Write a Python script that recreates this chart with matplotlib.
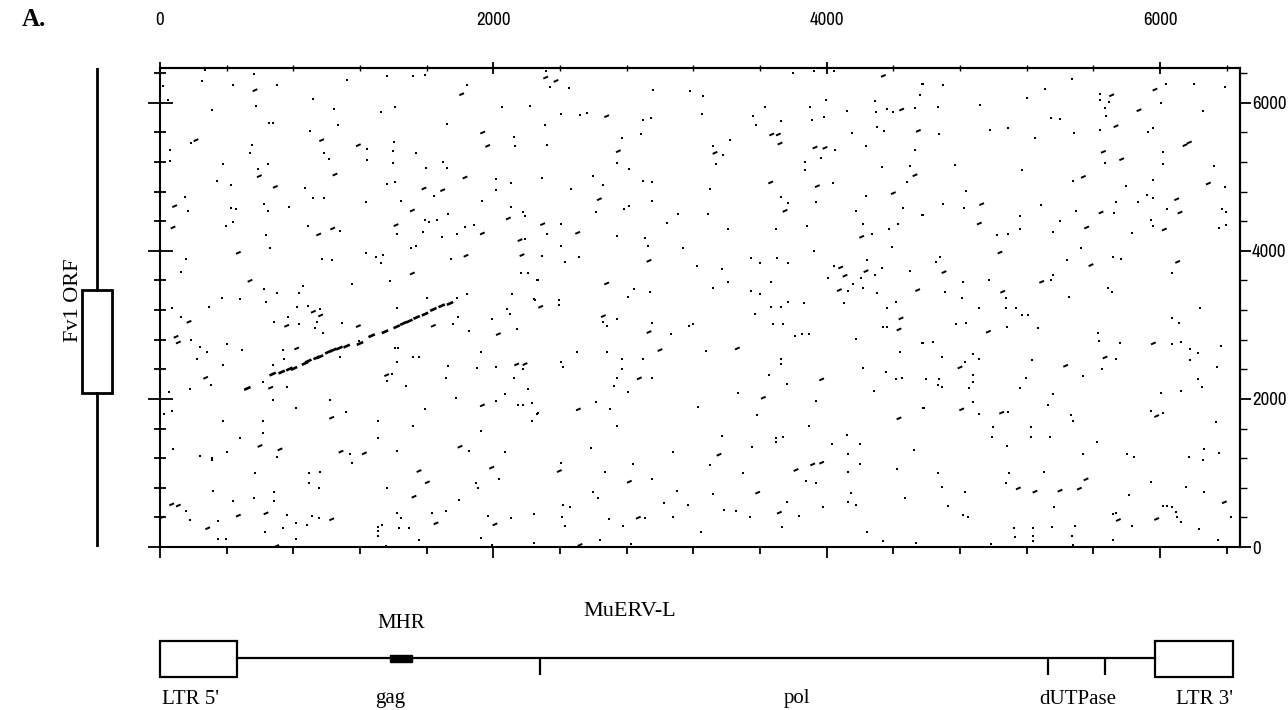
import matplotlib
matplotlib.use("Agg")
import matplotlib.pyplot as plt
from matplotlib import font_manager
from matplotlib.collections import LineCollection
from matplotlib.patches import Rectangle
from matplotlib.ticker import FixedLocator

# dot plot: MuERV-L (x) against the Fv1 region (y), coordinates in bp
# isolated dots
dots_a = [(270,6449),(566,6386),(254,6291),(440,6246),(700,6246),(16,6224),(1120,6314),(1364,6363),(1520,6363),(1590,6372),(1840,6238),(916,6057),(48,6035),(576,5954),(310,5909),(1044,5922),(1412,5940),(1326,5877),(2054,5945),(2220,5958),(654,5729),(676,5729),(1070,5706),(1720,5711),(900,5621),(2124,5540),(186,5459),(1240,5382),(1404,5472),(1396,5346),(2132,5414),(60,5369),(550,5427),(540,5328),(982,5328),(1534,5324),(1014,5247),(60,5216),(1240,5234),(1396,5193),(380,5180),(650,5167),(1700,5202),(1720,5121),(1594,5126),(590,5104),(342,4946),(424,4888),(872,4843),(1360,4901),(1410,4932),(2016,4968),(2014,4820),(2108,4910),(150,4721),(170,4541),(424,4582),(454,4559),(624,4631),(648,4541),(774,4586),(920,4708),(984,4708),(1238,4663),(1448,4676),(1644,4739),(1930,4676),(2108,4595),(2180,4528),(2190,4470),(396,4339),(436,4393),(634,4213),(886,4334),(1080,4266),(1420,4222),(1590,4415),(1616,4384),(1660,4415),(1730,4496),(1576,4249),(1690,4190),(1784,4226),(1830,4325),(1886,4348),(2190,4154),(660,4042),(156,3884),(124,3718),(970,3893),(1030,3875),(1236,3965),(1296,3911),(1324,3839),(1336,3943),(1506,4042),(1534,4064),(1744,3889),(2166,3695),(2206,3695),(2266,3605),(622,3488),(702,3434),(370,3367),(480,3344),(634,3308),(860,3524),(832,3425),(1154,3556),(1378,3596),(1604,3362),(1784,3362),(1840,3412),(2110,3412),(2250,3335),(70,3222),(294,3236),(820,3245),(886,3258),(960,3218),(1420,3222),(2080,3218)]
dots_b = [(124,3110),(184,2795),(240,2696),(280,2638),(220,2543),(306,2188),(180,2134),(56,2088),(26,1792),(72,1836),(404,2736),(490,2660),(376,2462),(768,3110),(684,3038),(832,3016),(940,3038),(928,2952),(980,2885),(1092,3020),(740,2660),(744,2538),(676,2462),(620,2228),(764,2165),(1080,2561),(1196,2786),(1410,2682),(1430,2682),(1420,2494),(1520,2561),(1556,2570),(1390,2332),(1364,2242),(1474,2178),(1756,3006),(1786,3110),(1856,2921),(1990,3074),(2100,3146),(2140,2944),(1924,2628),(1900,2422),(2014,2426),(2180,2404),(2124,2278),(1716,2278),(1730,2444),(1774,2016),(2016,1976),(2070,2066),(2148,1918),(2180,1918),(2210,2134),(2270,1805),(2230,1702),(1590,1864),(1520,1634),(1924,1571),(1856,1301),(2070,1283),(2034,914),(1896,860),(1910,792),(1796,635),(1714,491),(1630,455),(1556,95),(1966,419),(2104,388),(2246,446),(1924,118),(1990,28),(1022,1985),(1114,1828),(814,1872),(676,1985),(620,1702),(620,1535),(700,1220),(480,1476),(376,1702),(400,1287),(310,1198),(310,1170),(240,1234),(80,1328),(570,995),(896,1004),(960,1018),(896,869),(954,792),(1140,1252),(1154,1130),(1306,1706),(1306,1476),(1420,1296),(1360,802),(316,757),(436,622),(564,666),(684,748),(684,622),(154,491),(180,365),(350,356),(346,109),(396,109),(630,198),(764,428),(740,262),(814,329),(814,109),(880,298),(914,424),(954,388),(1310,266),(1310,221),(1310,149),(1330,298),(1420,455),(1444,388),(1434,253),(1496,253),(1356,14)]
dots_c = [(2316,6431),(2340,6215),(2454,6206),(2406,5842),(2520,5833),(2564,5864),(2896,5765),(2944,5801),(2308,5698),(2320,5436),(2956,6170),(3180,6161),(3260,6094),(3252,5842),(2770,5531),(2884,5576),(2742,5189),(2812,5112),(2292,4978),(2600,5014),(2660,4896),(2464,4834),(2896,4946),(2952,4924),(2812,4604),(2786,4564),(2614,4519),(2952,4672),(2404,4357),(2320,4226),(2404,4068),(2292,3934),(2430,3844),(2514,3911),(2740,4204),(2912,4176),(2926,4064),(3040,4379),(3106,4496),(3290,4492),(3136,4032),(3220,3794),(3320,5418),(3376,5292),(3420,5495),(3334,5171),(3302,4838),(2264,3605),(2844,3479),(2810,3380),(2940,3448),(2244,3344),(2394,3335),(2394,3268),(3374,3754),(3406,4294),(3406,3582),(3320,3502),(3544,3898),(3600,3839),(3700,3907),(3766,3839),(3664,3582),(3544,3461),(3600,3412),(3664,3236),(3724,3236),(3766,3304),(3864,3290),(3630,5945),(3556,5824),(3574,5706),(3726,5756),(3800,6404),(3926,6427),(4046,6427),(3900,5945),(3910,5774),(3984,5810),(3996,6044),(4050,5360),(3964,5256),(3868,5194),(3868,5099),(4036,4919),(3724,4730),(3766,4640),(3936,4662),(3696,4289),(3880,4338),(3924,4001),(4120,5891),(4150,5594),(4234,5418),(4290,6022),(4294,5877),(4360,5922),(4400,5877),(4530,5936),(4560,6112),(4574,6251),(4300,5675),(4344,5621),(4530,5360),(4330,5135),(4500,5144),(4480,4932),(4234,4744),(4456,4577),(4176,4536),(4216,4361),(4274,4222),(4374,4302),(4430,4357),(4570,4482),(4390,4055),(4244,3875),(4290,3672),(4334,3772),(4500,3731),(4046,3798),(4010,3636),(4156,3551),(4204,3636),(4216,3502),(4130,3461),(4104,3299),(4300,3425),(4416,3304),(4360,3222)]
dots_d = [(2656,3034),(2684,2988),(2740,3078),(2954,3020),(3064,2872),(3176,2984),(3200,3011),(3570,3142),(3680,3006),(3740,3006),(3810,2854),(3850,2872),(3896,2876),(4176,2804),(4340,2975),(4360,2975),(4440,2638),(4570,2750),(2504,2638),(2684,2638),(3274,2646),(2404,2502),(2416,2426),(2770,2538),(2770,2399),(2896,2534),(2740,2278),(2724,2178),(2954,2278),(2810,2098),(3724,2534),(3724,2471),(3654,2322),(3764,2201),(3470,2084),(4216,2422),(4356,2368),(4414,2268),(4454,2278),(4596,2268),(4286,2106),(3934,1972),(4586,1872),(2234,1949),(2264,1796),(2234,1702),(2614,1954),(2700,1859),(2740,1634),(3230,1895),(3580,1787),(3894,1634),(3370,1504),(3696,1467),(3696,1422),(3736,1490),(3550,1346),(2584,1342),(3076,1288),(4030,1386),(4120,1512),(4130,1252),(4200,1386),(4526,1310),(2404,1130),(2670,1018),(2836,1121),(2950,914),(3300,1112),(3496,1000),(3876,892),(3934,869),(4126,1018),(4200,1116),(4424,1049),(2596,747),(2626,658),(2416,568),(2460,545),(2414,410),(2430,288),(2244,446),(2694,383),(2780,288),(2910,388),(3024,599),(3102,761),(3170,568),(3076,410),(3316,716),(3384,500),(3454,491),(3542,410),(3764,612),(3836,419),(3734,275),(3246,208),(2824,41),(2640,95),(2244,50),(3980,545),(4130,604),(4144,734),(4176,568),(4470,658),(4240,208),(4340,82),(4534,50)]
dots_e = [(4576,6251),(4700,6246),(4670,5945),(4920,5976),(4674,5585),(4770,5166),(4834,4811),(4696,4627),(4824,4582),(4576,4482),(4980,5639),(5090,5662),(5204,6071),(5312,6192),(5250,5526),(5174,5099),(5160,4474),(5160,4302),(5286,4618),(5020,4212),(5090,4226),(4656,3852),(4680,3920),(4820,3582),(4976,3605),(4710,3448),(4810,3358),(5076,3358),(4916,3232),(5076,3232),(5136,3232),(5344,3605),(5356,3672),(5456,3371),(5346,5801),(5400,5783),(5474,6318),(5486,5594),(5476,4946),(5496,4541),(5400,4402),(5360,4258),(5526,4042),(5440,3875),(5640,6125),(5640,6044),(5670,5932),(5696,6004),(5676,5819),(5642,5630),(5670,5189),(5724,4505),(5736,4662),(5794,4874),(5866,4662),(5920,4752),(5960,4955),(5960,4708),(6040,4572),(5946,4415),(5960,4338),(5834,4244),(5720,3920),(5764,3889),(5690,3492),(5710,3448),(6036,6251),(6204,6260),(6390,6215),(6004,6001),(6260,5886),(5930,5608),(5956,5662),(6020,5338),(6020,5180),(6326,5148),(6390,4856),(6370,4559),(6396,4528),(6356,4312),(6396,4356),(6070,3695),(6240,3222)]
dots_f = [(4776,3006),(4834,3020),(5084,2975),(5170,3132),(5210,3132),(5270,2952),(4580,2750),(4636,2772),(4694,2570),(4830,2502),(4876,2606),(4916,2538),(4596,2268),(4676,2264),(4670,2188),(4694,2166),(4876,2322),(4876,2224),(4856,2142),(4876,1962),(4580,1872),(4916,1796),(5086,1828),(5000,1625),(4990,1490),(5084,1368),(5160,2142),(5196,2278),(5230,2525),(5356,2062),(5326,1918),(5224,1625),(5224,1490),(5340,1490),(5536,2309),(5466,1782),(5480,1706),(5626,2885),(5636,2782),(5650,2404),(5736,2534),(5760,2750),(5620,1414),(5536,1256),(5804,1256),(5844,1211),(6070,3088),(6116,3020),(6070,2741),(6126,2772),(6180,2669),(6180,2525),(6226,2624),(6340,2435),(6366,2714),(6226,2264),(6254,2156),(6126,2111),(6004,2075),(5946,1841),(6016,1814),(6336,1684),(6264,1324),(6260,1175),(6176,1220),(6354,1274),(4666,995),(4690,806),(4830,748),(4730,559),(4820,432),(4850,410),(5076,869),(5096,995),(5306,1008),(5366,536),(5126,252),(5130,140),(5240,252),(5240,149),(5240,86),(5354,275),(5470,149),(5490,284),(5480,28),(4986,41),(5716,95),(5716,446),(5736,464),(5816,703),(5834,284),(5944,874),(6016,559),(6044,554),(6070,536),(6096,478),(6100,410),(6126,343),(6154,806),(6264,739),(6236,239),(6424,410),(6350,95)]

# short dashes (short diagonal matches)
dashes = [(570,6170),(1810,6116),(1936,5598),(216,5495),(970,5495),(1190,5427),(1966,5418),(596,5009),(1050,5031),(692,4865),(1584,4843),(1696,4820),(1830,4991),(88,4604),(1514,4546),(78,4316),(952,4222),(1036,4302),(1416,4348),(1934,4235),(2090,4438),(2160,4145),(470,3974),(1836,3934),(2172,3943),(1514,3695),(540,3596),
          (174,3042),(96,2840),(110,2763),(274,2286),(760,2988),(920,3178),(964,3128),(1190,2984),(820,2682),(1360,2322),(664,2152),(1640,2988),(2030,2876),(2140,2466),(2190,2471),(1934,1913),(1800,1355),(1990,1072),(1604,874),(1554,1026),(1524,680),(1656,320),(2010,306),(1030,1746),(600,1365),(720,1319),(1086,1288),(1226,1265),(70,576),(110,560),(10,397),(286,253),(470,424),(636,455),(1030,374),(700,14),
          (2314,6341),(2376,6296),(2680,5819),(2750,5346),(2636,4698),(2296,4361),(2506,4244),(2934,3866),(3330,5324),(2680,3560),(2284,3245),(3670,5572),(3710,5572),(3720,5450),(3930,5396),(3990,5392),(3664,4924),(3944,4874),(3750,4541),(4340,6364),(4450,5909),(4550,5621),(4530,5022),(4400,4780),(4210,4190),(4236,3726),(4084,3776),(4110,3664),(4076,3470),(4546,3470),
          (2660,3119),(2934,2903),(4446,3088),(4434,2939),(3000,2660),(3464,2682),(2876,2278),(3620,2016),(3970,2264),(4434,1738),(2510,1859),(3354,1247),(2396,1026),(2816,882),(3816,1040),(3916,1116),(3970,1139),(3586,734),(3716,464),(2870,396),(2520,28),
          (4930,4631),(4916,4370),(5040,3978),(4704,3713),(5056,3448),(5290,3582),(5540,5000),(5560,4316),(5586,3808),(5710,6102),(5736,5684),(5660,5338),(5770,5238),(5646,4518),(6100,4698),(6120,4518),(6026,4289),(5970,6179),(5874,5900),(6150,5428),(6176,5464),(6290,4910),(6106,3852),
          (4970,2908),(4800,2426),(4810,1859),(5050,1814),(5434,2448),(5670,2560),(5960,2750),(5980,1769),(5150,792),(5250,748),(5400,761),(5516,788),(5556,914),(5750,365),(5980,379),(6386,604)]

# the homology diagonal (gag region of MuERV-L vs Fv1 ORF)
diag = [(524,2142),(676,2336),(730,2363),(776,2404),(804,2412),(870,2480),(890,2512),(940,2556),(960,2570),(1010,2633),(1040,2660),(1076,2687),(1120,2714),(1200,2750),(1270,2854),(1350,2908),(1420,2975),(1460,3020),(1496,3052),(1540,3101),(1590,3146),(1640,3209),(1690,3258),(1740,3290)]

# genome maps
ltr5 = (0, 460)
ltr3 = (5970, 6440)
mhr = (1380, 1510)
boundaries = [2280, 5330, 5670]
map_labels = ["LTR 5'", "gag", "pol", "dUTPase", "LTR 3'"]
map_label_x = [180, 1380, 3822, 5508, 6270]
fv1_orf = (2080, 3470)

XMAX, YMAX = 6480, 6470
major_ticks = [0, 2000, 4000, 6000]
minor_ticks = list(range(0, 6401, 400))
serif = ['Liberation Serif', 'DejaVu Serif']

# the axis numbers are in a narrow sans; take the narrowest the system has
def pick_narrow():
    found = {}
    for f in font_manager.fontManager.ttflist:
        nm = f.name.lower()
        if 'mono' in nm or 'serif' in nm or f.style != 'normal' or f.weight not in (400, 'normal', 'regular'):
            continue
        if 'narrow' in nm:
            found.setdefault(0, f.fname)
        elif 'condensed' in nm or f.stretch in ('condensed', 'semi-condensed', 'extra-condensed'):
            found.setdefault(1, f.fname)
    if 0 in found:
        return font_manager.FontProperties(fname=found[0], size=13.5)
    if 1 in found:
        return font_manager.FontProperties(fname=found[1], size=11.5)
    return font_manager.FontProperties(family='Liberation Sans', size=11)

narrow = pick_narrow()

fig = plt.figure(figsize=(12.88, 7.10), dpi=100)
L, W = 160 / 1288, 1080 / 1288
B, H = 163 / 710, 479 / 710

ax = fig.add_axes([L, B, W, H])
ax.set_xlim(0, XMAX)
ax.set_ylim(0, YMAX)

alldots = dots_a + dots_b + dots_c + dots_d + dots_e + dots_f
ax.scatter([p[0] for p in alldots], [p[1] for p in alldots], s=1.8, marker='s', c='k', lw=0)
d = 14
ax.add_collection(LineCollection([[(x - d, y - d), (x + d, y + d)] for x, y in dashes], colors='k', lw=1.4))
d = 19
ax.add_collection(LineCollection([[(x - d, y - d), (x + d, y + d)] for x, y in diag], colors='k', lw=1.9))

for s in ax.spines.values():
    s.set_linewidth(1.5)

for a in (ax.xaxis, ax.yaxis):
    a.set_major_locator(FixedLocator(major_ticks))
    a.set_minor_locator(FixedLocator(minor_ticks))
ax.tick_params(axis='x', which='both', direction='out', labelbottom=False, width=1.3)
ax.tick_params(axis='x', which='major', length=8)
ax.tick_params(axis='x', which='minor', length=5)
ax.tick_params(axis='y', which='both', direction='inout', labelleft=False, width=1.3)
ax.tick_params(axis='y', which='major', length=18)
ax.tick_params(axis='y', which='minor', length=9)

top = ax.secondary_xaxis('top')
top.xaxis.set_major_locator(FixedLocator(major_ticks))
top.xaxis.set_minor_locator(FixedLocator(minor_ticks))
top.tick_params(which='major', direction='inout', length=9, width=1.3, pad=24)
top.tick_params(which='minor', direction='inout', length=4, width=1.0)
top.spines['top'].set_linewidth(1.5)
for t in top.get_xticklabels():
    t.set_fontproperties(narrow)

right = ax.secondary_yaxis('right')
right.yaxis.set_major_locator(FixedLocator(major_ticks))
right.yaxis.set_minor_locator(FixedLocator(minor_ticks))
right.tick_params(which='major', direction='out', length=8, width=1.3, pad=0.5)
right.tick_params(which='minor', direction='out', length=5, width=1.0)
right.spines['right'].set_linewidth(1.5)
for t in right.get_yticklabels():
    t.set_fontproperties(narrow)

# Fv1 map at left
axl = fig.add_axes([70 / 1288, B, 54 / 1288, H])
axl.set_xlim(0, 1)
axl.set_ylim(0, YMAX)
axl.axis('off')
axl.plot([0.5, 0.5], [0, fv1_orf[0]], c='k', lw=2)
axl.plot([0.5, 0.5], [fv1_orf[1], YMAX], c='k', lw=2)
axl.add_patch(Rectangle((0.22, fv1_orf[0]), 0.56, fv1_orf[1] - fv1_orf[0], fc='white', ec='k', lw=2))
fig.text(74 / 1288, 1 - 300 / 710, "Fv1 ORF", rotation=90, ha='center', va='center', family=serif, fontsize=16)

# MuERV-L map at bottom
axb = fig.add_axes([L, 0, W, 110 / 710])
axb.set_xlim(0, XMAX)
axb.set_ylim(710, 600)
axb.axis('off')
axb.plot([ltr5[1], ltr3[0]], [658, 658], c='k', lw=1.6)
axb.add_patch(Rectangle((ltr5[0], 641), ltr5[1] - ltr5[0], 36, fc='white', ec='k', lw=1.6, clip_on=False))
axb.add_patch(Rectangle((ltr3[0], 641), ltr3[1] - ltr3[0], 36, fc='white', ec='k', lw=1.6, clip_on=False))
axb.add_patch(Rectangle((mhr[0], 655), mhr[1] - mhr[0], 7, fc='k', ec='k'))
axb.vlines(boundaries, 658, 675, colors='k', lw=1.6)
axb.text(sum(mhr) / 2, 624, "MHR", ha='center', va='center', family=serif, fontsize=15)
axb.text(2820, 612, "MuERV-L", ha='center', va='center', family=serif, fontsize=16)
for lab, x in zip(map_labels, map_label_x):
    axb.text(x, 699, lab, ha='center', va='center', family=serif, fontsize=15, clip_on=False)

fig.text(22 / 1288, 1 - 20 / 710, "A.", ha='left', va='center', family=serif, fontsize=18, fontweight='bold')

fig.savefig("out.png", dpi=100)
